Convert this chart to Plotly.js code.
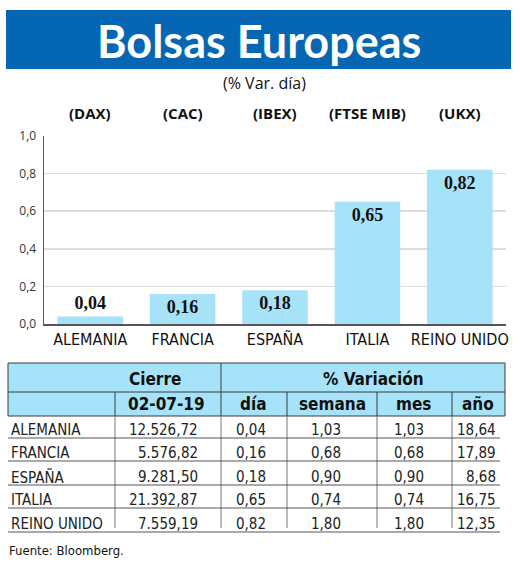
<!DOCTYPE html>
<html><head><meta charset="utf-8">
<script src="https://cdn.plot.ly/plotly-3.0.1.min.js"></script>
<style>html,body{margin:0;padding:0;background:#fff}#chart{width:520px;height:563px}</style>
</head><body><div id="chart"></div>
<script>
// ---- data ----
const countries = ['ALEMANIA', 'FRANCIA', 'ESPAÑA', 'ITALIA', 'REINO UNIDO'];
const indexCodes = ['(DAX)', '(CAC)', '(IBEX)', '(FTSE MIB)', '(UKX)'];
const dayVar = [0.04, 0.16, 0.18, 0.65, 0.82];
const cierre = [12526.72, 5576.82, 9281.50, 21392.87, 7559.19];
const semanaVar = [1.03, 0.68, 0.90, 0.74, 1.80];
const mesVar = [1.03, 0.68, 0.90, 0.74, 1.80];
const anioVar = [18.64, 17.89, 8.68, 16.75, 12.35];
const yTicks = [0, 0.2, 0.4, 0.6, 0.8, 1.0];
const chartTitle = 'Bolsas Europeas';
const chartSubtitle = '(% Var. día)';
const closeHeader = 'Cierre';
const closeDate = '02-07-19';
const varHeader = '% Variación';
const varCols = ['día', 'semana', 'mes', 'año'];
const source = 'Fuente: Bloomberg.';

// ---- helpers ----
const W = 520, H = 563;
const X = p => p / W, Y = p => 1 - p / H;
function fmt(v) {
  const parts = v.toFixed(2).split('.');
  parts[0] = parts[0].replace(/\B(?=(\d{3})+(?!\d))/g, '.');
  return parts.join(',');
}
const COND = '"Liberation Sans Narrow", "DejaVu Sans Condensed", "Open Sans", sans-serif';
const BLUE = '#0567b3';
const CYAN = '#a7e3f8';
const DARK = '#3a3a3a';

const shapes = [];
const annotations = [];
function rect(x0, y0, x1, y1, fill, line, lw) {
  shapes.push({type: 'rect', xref: 'paper', yref: 'paper', x0: X(x0), x1: X(x1), y0: Y(y1), y1: Y(y0),
    fillcolor: fill, line: {color: line || 'rgba(0,0,0,0)', width: lw || 0}, layer: 'below'});
}
function line(x0, y0, x1, y1, color, w) {
  shapes.push({type: 'line', xref: 'paper', yref: 'paper', x0: X(x0), x1: X(x1), y0: Y(y0), y1: Y(y1),
    line: {color: color, width: w}});
}
function txt(text, x, y, opts) {
  opts = opts || {};
  annotations.push({text: text, xref: 'paper', yref: 'paper', x: X(x), y: Y(y), showarrow: false,
    xanchor: opts.anchor || 'center', yanchor: 'middle',
    font: {family: opts.family || COND, size: opts.size || 15, color: opts.color || '#222', weight: opts.weight || 'normal'}});
}

// banner
rect(6, 10, 511, 69, BLUE);
txt(chartTitle, 259, 41, {family: 'Lato, "Open Sans", sans-serif', size: 45, color: '#fff', weight: 'bold'});
txt(chartSubtitle, 264, 83, {family: '"Open Sans", sans-serif', size: 16, color: '#111'});

// index codes above bars
countries.forEach((c, i) => {
  annotations.push({text: indexCodes[i], xref: 'x', yref: 'paper', x: c, y: Y(113), showarrow: false,
    xanchor: 'center', yanchor: 'middle',
    font: {family: '"Open Sans", sans-serif', size: 15, color: '#111', weight: 'bold'}});
});

// ---- table ----
const tL = 8, tR = 505, tTop = 363, tMid = 392, tHead = 416;
const colSep = [115, 221, 287, 377, 452];
const rowUnder = [438, 461, 485, 508, 532];
const rowCenter = [430, 453, 477, 500, 524];
rect(tL, tTop, tR, tHead, CYAN, DARK, 1);
line(tL, tMid, tR, tMid, DARK, 1);
line(221, tTop, 221, tHead, DARK, 1);
[115, 287, 377, 452].forEach(x => line(x, tMid, x, tHead, DARK, 1));
colSep.forEach(x => line(x, tHead, x, 528, '#777', 1));
rowUnder.forEach(y => line(tL, y, 500, y, '#555', 1));

txt(closeHeader, 155, 379, {size: 17, weight: 'bold', color: '#111'});
txt(varHeader, 373, 379, {size: 17, weight: 'bold', color: '#111'});
txt(closeDate, 166, 404, {size: 17, weight: 'bold', color: '#111'});
const varCenters = [253, 332, 413, 478];
varCols.forEach((v, i) => txt(v, varCenters[i], 404, {size: 17, weight: 'bold', color: '#111'}));

const numRight = [200, 268, 343, 426, 498];
countries.forEach((c, i) => {
  const y = rowCenter[i];
  txt(c, 9, y, {anchor: 'left', size: 15});
  txt(fmt(cierre[i]), numRight[0], y, {anchor: 'right', size: 15});
  txt(fmt(dayVar[i]), numRight[1], y, {anchor: 'right', size: 15});
  txt(fmt(semanaVar[i]), numRight[2], y, {anchor: 'right', size: 15});
  txt(fmt(mesVar[i]), numRight[3], y, {anchor: 'right', size: 15});
  txt(fmt(anioVar[i]), numRight[4], y, {anchor: 'right', size: 15});
});
txt(source, 7, 550, {anchor: 'left', size: 13, color: '#111'});

const trace = {
  type: 'bar', x: countries, y: dayVar,
  marker: {color: CYAN},
  texttemplate: '%{y:.2f}',
  textposition: ['outside', 'inside', 'inside', 'inside', 'inside'],
  insidetextanchor: 'end',
  constraintext: 'none',
  cliponaxis: false,
  textfont: {family: '"Liberation Serif", "DejaVu Serif", serif', size: 18, color: '#111', weight: 'bold'},
  hoverinfo: 'none'
};

const layout = {
  width: W, height: H,
  margin: {l: 0, r: 0, t: 0, b: 0},
  paper_bgcolor: '#fff', plot_bgcolor: '#fff',
  separators: ',.',
  showlegend: false,
  bargap: 0.29,
  xaxis: {domain: [X(44), X(506)], type: 'category', showline: true, linecolor: '#555', linewidth: 1.5,
    showgrid: false, zeroline: false, ticks: '', automargin: false,
    tickfont: {family: COND, size: 16, color: '#111'}},
  yaxis: {domain: [Y(324), Y(136)], range: [0, 1], tickvals: yTicks, tickformat: '.1f',
    showline: true, linecolor: '#555', linewidth: 1.5, showgrid: true, gridcolor: '#dddddd', gridwidth: 1.5,
    zeroline: false, ticks: '', automargin: false, ticklabelstandoff: 4,
    tickfont: {family: '"Open Sans", sans-serif', size: 12, color: '#333'}},
  shapes: shapes,
  annotations: annotations
};

Plotly.newPlot('chart', [trace], layout, {staticPlot: true, displayModeBar: false});
</script>
</body></html>
